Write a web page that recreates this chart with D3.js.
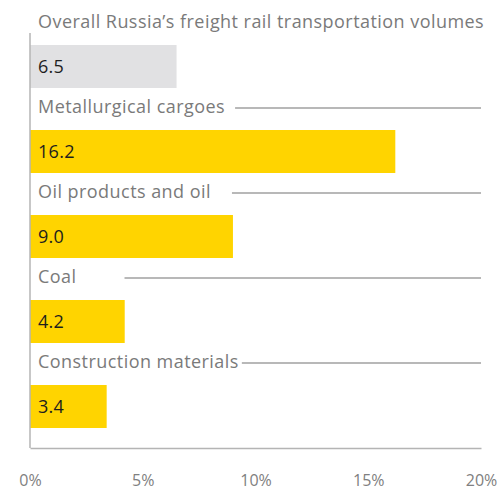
<!DOCTYPE html>
<html>
<head>
<meta charset="utf-8">
<script src="https://cdn.jsdelivr.net/npm/d3@7"></script>
<style>
  html, body { margin: 0; padding: 0; background: #fff; }
  svg { display: block; }
</style>
</head>
<body>
<svg id="chart" width="500" height="490"></svg>
<script>
// Freight rail transportation growth by cargo type, %
const categories = [
  "Overall Russia\u2019s freight rail transportation volumes",
  "Metallurgical cargoes",
  "Oil products and oil",
  "Coal",
  "Construction materials"
];
const values = [6.5, 16.2, 9.0, 4.2, 3.4];
const highlight = [false, true, true, true, true];
const tickValues = [0, 5, 10, 15, 20];

const svg = d3.select("#chart");
const left = 30, right = 481, axisY = 448;
const rowTop = 45, rowStep = 85, barH = 43;

const x = d3.scaleLinear().domain([0, 20]).range([left, right]);
const y = d3.scaleLinear().domain([0, 1]).range([rowTop, rowTop + rowStep]);

const rows = categories.map((c, i) => ({ c, v: values[i], hl: highlight[i], i }));

// space between a category name and the rule that follows it
const ruleGap = [0, 10, 21, 48, 3];

// bars
svg.append("g").selectAll("rect").data(rows).join("rect")
  .attr("x", x(0))
  .attr("y", d => y(d.i))
  .attr("width", d => x(d.v) - x(0))
  .attr("height", barH)
  .attr("fill", d => d.hl ? "#FFD400" : "#E1E1E3");

// value labels inside bars
svg.append("g").selectAll("text").data(rows).join("text")
  .attr("x", 38)
  .attr("y", d => y(d.i) + 28)
  .attr("font-family", "'Open Sans', sans-serif")
  .attr("font-size", 18)
  .attr("letter-spacing", 0.3)
  .attr("fill", "#1e1e1e")
  .text(d => d.v.toFixed(1));

// category names above bars
const names = svg.append("g").selectAll("text").data(rows).join("text")
  .attr("x", 38)
  .attr("y", d => y(d.i) - 17)
  .attr("font-family", "'Open Sans', sans-serif")
  .attr("font-size", 18)
  .attr("letter-spacing", 0.45)
  .attr("fill", "#7a7a7a")
  .text(d => d.c);

// rules that run from each name to the right edge
names.each(function(d) {
  if (d.i === 0) return;
  const end = 38 + this.getComputedTextLength() + ruleGap[d.i];
  svg.append("line")
    .attr("x1", end).attr("x2", right)
    .attr("y1", y(d.i) - 22).attr("y2", y(d.i) - 22)
    .attr("stroke", "#a0a0a0")
    .attr("stroke-width", 1.5);
});

// vertical baseline
svg.append("line")
  .attr("x1", left).attr("x2", left)
  .attr("y1", 33).attr("y2", axisY)
  .attr("stroke", "#b4b4b4").attr("stroke-width", 1.5);

// x axis
const xAxis = svg.append("g")
  .attr("transform", `translate(0,${axisY})`)
  .call(d3.axisBottom(x).tickValues(tickValues).tickSize(0).tickSizeOuter(0)
    .tickPadding(27).tickFormat(d => d + "%"));
xAxis.select(".domain").attr("stroke", "#b4b4b4").attr("stroke-width", 1.5);
xAxis.selectAll("text")
  .attr("font-family", "'Open Sans', sans-serif")
  .attr("font-size", 16)
  .attr("fill", "#808080");
</script>
</body>
</html>
